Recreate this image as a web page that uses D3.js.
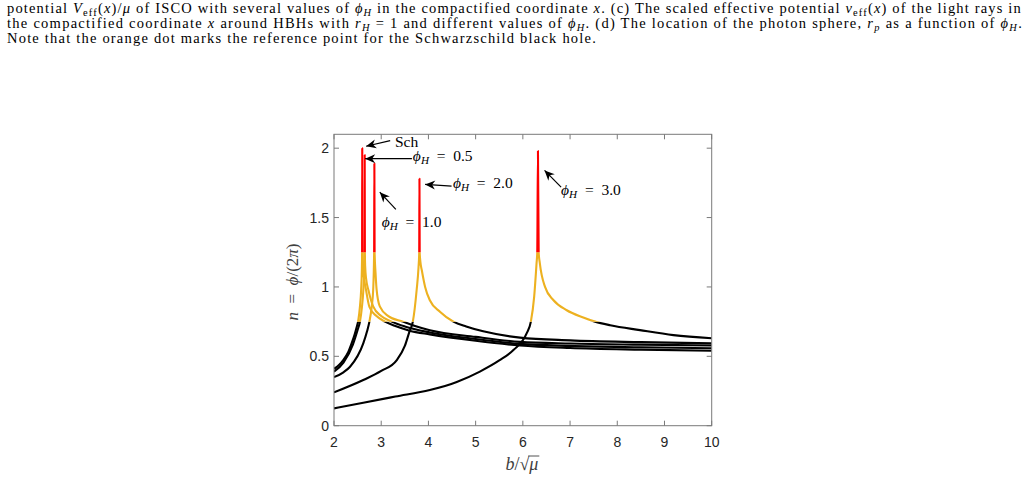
<!DOCTYPE html>
<html>
<head>
<meta charset="utf-8">
<script src="https://cdn.jsdelivr.net/npm/d3@7"></script>
<style>
body { margin: 0; background: #fff; }
svg { display: block; }
</style>
</head>
<body>
<svg width="1030" height="479"></svg>
<script>
// ---- data (b/sqrt(mu), n = phi/(2 pi)) ----
var xTicks = [2, 3, 4, 5, 6, 7, 8, 9, 10];
var yTicks = [0, 0.5, 1, 1.5, 2];
var yTickLabels = ["0", "0.5", "1", "1.5", "2"];

var bSch = [2.0, 2.1, 2.2, 2.3, 2.375, 2.44, 2.48, 2.51, 2.55, 2.575, 2.59, 2.595, 2.598, 2.601, 2.607, 2.625, 2.68, 2.75, 2.9, 3.08, 3.3, 3.6, 4.03, 5.0, 5.94, 7.0, 8.5, 10];
var nSch = [0.41, 0.435, 0.475, 0.53, 0.595, 0.66, 0.71, 0.75, 0.86, 0.98, 1.12, 1.25, 2.0, 1.5, 1.25, 1.1, 0.976, 0.856, 0.79, 0.75, 0.718, 0.685, 0.658, 0.612, 0.578, 0.56, 0.548, 0.54];

var bPhi05 = [2.0, 2.2, 2.4, 2.5, 2.55, 2.59, 2.62, 2.64, 2.646, 2.65, 2.654, 2.66, 2.68, 2.73, 2.83, 3.0, 3.22, 3.5, 4.03, 5.0, 5.94, 7.0, 8.5, 10];
var nPhi05 = [0.39, 0.455, 0.585, 0.69, 0.75, 0.85, 0.97, 1.12, 1.25, 1.95, 1.25, 1.15, 1.06, 0.976, 0.86, 0.79, 0.75, 0.715, 0.672, 0.625, 0.59, 0.575, 0.565, 0.558];

var bPhi10 = [2.0, 2.2, 2.34, 2.62, 2.7, 2.75, 2.8, 2.83, 2.85, 2.855, 2.86, 2.88, 2.9, 2.97, 3.15, 3.46, 3.7, 4.03, 5.0, 5.94, 7.0, 8.5, 10];
var nPhi10 = [0.35, 0.385, 0.425, 0.593, 0.68, 0.75, 0.86, 0.98, 1.25, 1.89, 1.25, 1.1, 0.99, 0.86, 0.79, 0.75, 0.72, 0.688, 0.64, 0.604, 0.592, 0.584, 0.578];

var bPhi20 = [2.0, 2.62, 3.0, 3.33, 3.5, 3.6, 3.67, 3.75, 3.79, 3.805, 3.81, 3.815, 3.83, 3.86, 3.93, 4.03, 4.25, 4.53, 4.8, 5.16, 5.94, 7.0, 8.5, 10];
var nPhi20 = [0.24, 0.329, 0.395, 0.473, 0.575, 0.68, 0.75, 0.976, 1.14, 1.25, 1.78, 1.25, 1.18, 1.12, 1.0, 0.904, 0.82, 0.75, 0.715, 0.68, 0.635, 0.615, 0.602, 0.593];

var bPhi30 = [2.0, 2.62, 3.3, 4.03, 4.6, 5.09, 5.5, 5.8, 6.08, 6.17, 6.24, 6.29, 6.305, 6.32, 6.335, 6.36, 6.47, 6.65, 6.93, 7.28, 7.53, 7.85, 8.48, 9.19, 10];
var nPhi30 = [0.125, 0.166, 0.21, 0.257, 0.315, 0.39, 0.47, 0.545, 0.665, 0.75, 0.93, 1.17, 1.25, 1.98, 1.25, 1.17, 1.0, 0.904, 0.832, 0.78, 0.75, 0.724, 0.689, 0.653, 0.63];

// n bands: direct (<0.75), lensed (0.75-1.25), photon ring (>1.25)
var bandEdges = [0, 0.75, 1.25, 2.1];
var bandColors = ["#000000", "#EDB120", "#FF0000"];

// annotations: label, text anchor (b, n), arrow tail (b, n), arrow tip (b, n)
var annLabels = ["Sch", "0.5", "2.0", "1.0", "3.0"];
var annText = [[3.29, 2.01], [3.67, 1.904], [4.52, 1.71], [3.01, 1.432], [6.81, 1.66]];
var annTail = [[3.19, 2.055], [3.65, 1.924], [4.49, 1.727], [3.31, 1.559], [6.81, 1.719]];
var annTip = [[2.68, 2.014], [2.66, 1.924], [3.93, 1.739], [2.97, 1.683], [6.46, 1.84]];

var series = [
  { b: bSch, n: nSch },
  { b: bPhi05, n: nPhi05 },
  { b: bPhi10, n: nPhi10 },
  { b: bPhi20, n: nPhi20 },
  { b: bPhi30, n: nPhi30 }
];

var svg = d3.select("svg");
var plotL = 334, plotR = 711.7, plotT = 134.3, plotB = 425.7;

var x = d3.scaleLinear().domain([2, 10]).range([plotL, plotR]);
var y = d3.scaleLinear().domain([0, 2.1]).range([plotB, plotT]);

var serif = "'Liberation Serif', 'Times New Roman', serif";
var sans = "'Liberation Sans', Arial, Helvetica, sans-serif";

// ---- rich text helper (italic / subscript pieces) ----
function richText(g, parts) {
  var shift = 0;
  parts.forEach(function(p) {
    var s = p[1] || "";
    var want = s.indexOf("sub") >= 0 ? 3 : 0;
    var ts = g.append("tspan").text(p[0]);
    if (want !== shift) { ts.attr("dy", want - shift); shift = want; }
    if (s.indexOf("i") === 0) ts.style("font-style", "italic");
    if (want) ts.style("font-size", "72%");
  });
}

function captionLine(yy, parts, x0, x1) {
  var t = svg.append("text")
      .attr("x", x0).attr("y", yy)
      .style("font-family", serif)
      .style("font-size", "14.5px")
      .attr("fill", "#000");
  richText(t, parts);
  var w = t.node().getComputedTextLength();
  var nChars = t.text().length;
  t.attr("letter-spacing", (x1 - x0 - w) / nChars);
}

captionLine(13, [["potential "], ["V", "i"], ["eff", "sub"], ["("], ["x", "i"], [")/"], ["μ", "i"],
  [" of ISCO with several values of "], ["ϕ", "i"], ["H", "isub"], [" in the compactified coordinate "],
  ["x", "i"], [". (c) The scaled effective potential "], ["v", "i"], ["eff", "sub"], ["("], ["x", "i"],
  [") of the light rays in"]], 7, 1022);
captionLine(28, [["the compactified coordinate "], ["x", "i"], [" around HBHs with "], ["r", "i"], ["H", "isub"],
  [" = 1 and different values of "], ["ϕ", "i"], ["H", "isub"], [". (d) The location of the photon sphere, "],
  ["r", "i"], ["p", "isub"], [" as a function of "], ["ϕ", "i"], ["H", "isub"], ["."]], 7, 1023);
captionLine(43, [["Note that the orange dot marks the reference point for the Schwarzschild black hole."]], 7, 597);

// ---- clip paths for the n bands ----
var defs = svg.append("defs");
bandEdges.slice(0, 3).forEach(function(lo, i) {
  var hi = bandEdges[i + 1];
  defs.append("clipPath").attr("id", "band" + i)
    .append("rect")
    .attr("x", plotL).attr("width", plotR - plotL)
    .attr("y", y(hi)).attr("height", y(lo) - y(hi));
});

defs.append("marker")
    .attr("id", "head")
    .attr("markerUnits", "userSpaceOnUse")
    .attr("viewBox", "-11 -5 12 10")
    .attr("markerWidth", 12).attr("markerHeight", 10)
    .attr("refX", 0).attr("refY", 0)
    .attr("orient", "auto")
  .append("path")
    .attr("d", "M0,0 L-10,-4.5 L-7,0 L-10,4.5 Z")
    .attr("fill", "#000");

// ---- curves ----
var line = d3.line()
    .x(function(d) { return x(d[0]); })
    .y(function(d) { return y(d[1]); })
    .curve(d3.curveMonotoneX);

var curves = svg.append("g").attr("class", "curves");
series.forEach(function(s) {
  var pts = s.b.map(function(b, i) { return [b, s.n[i]]; });
  bandColors.forEach(function(c, i) {
    curves.append("path")
      .attr("d", line(pts))
      .attr("clip-path", "url(#band" + i + ")")
      .attr("fill", "none")
      .attr("stroke", c)
      .attr("stroke-width", 2.1)
      .attr("stroke-linejoin", "round");
  });
});

// ---- axes (box with inward ticks) ----
var axisColor = "#262626";
var lineGray = "#7a7a7a";
var tickLen = 5;
var ax = svg.append("g").attr("class", "axes");

ax.append("rect")
  .attr("x", plotL).attr("y", plotT)
  .attr("width", plotR - plotL).attr("height", plotB - plotT)
  .attr("fill", "none").attr("stroke", lineGray).attr("stroke-width", 1);

xTicks.forEach(function(t) {
  ax.append("line").attr("x1", x(t)).attr("x2", x(t)).attr("y1", plotB).attr("y2", plotB - tickLen)
    .attr("stroke", lineGray);
  ax.append("line").attr("x1", x(t)).attr("x2", x(t)).attr("y1", plotT).attr("y2", plotT + tickLen)
    .attr("stroke", lineGray);
  ax.append("text").attr("x", x(t)).attr("y", plotB + 21)
    .attr("text-anchor", "middle")
    .style("font-family", sans).style("font-size", "14px")
    .attr("fill", axisColor).text(t);
});

yTicks.forEach(function(t, i) {
  ax.append("line").attr("x1", plotL).attr("x2", plotL + tickLen).attr("y1", y(t)).attr("y2", y(t))
    .attr("stroke", lineGray);
  ax.append("line").attr("x1", plotR).attr("x2", plotR - tickLen).attr("y1", y(t)).attr("y2", y(t))
    .attr("stroke", lineGray);
  ax.append("text").attr("x", plotL - 5).attr("y", y(t) + 5)
    .attr("text-anchor", "end")
    .style("font-family", sans).style("font-size", "14px")
    .attr("fill", axisColor).text(yTickLabels[i]);
});

// x label: b / sqrt(mu)
var xl = svg.append("text")
    .attr("x", (plotL + plotR) / 2 - 1).attr("y", 470)
    .attr("text-anchor", "middle")
    .style("font-family", serif).style("font-size", "18px")
    .attr("fill", "#404040");
richText(xl, [["b", "i"], ["/√"], ["μ", "i"]]);
(function() {
  var node = xl.node();
  var nc = xl.text().length;
  var sq = node.getExtentOfChar(nc - 2);
  var mu = node.getExtentOfChar(nc - 1);
  svg.append("line")
    .attr("x1", sq.x + sq.width - 1).attr("x2", mu.x + mu.width + 1)
    .attr("y1", sq.y + 2).attr("y2", sq.y + 2)
    .attr("stroke", "#404040").attr("stroke-width", 0.9);
})();

// y label: n = phi/(2 pi)
var yl = svg.append("text")
    .attr("transform", "translate(298," + ((plotT + plotB) / 2 + 2) + ") rotate(-90)")
    .attr("text-anchor", "middle")
    .style("font-family", serif).style("font-size", "17px")
    .attr("fill", "#404040");
richText(yl, [["n", "i"], ["\u2002=\u2002"], ["ϕ", "i"], ["/(2"], ["π", "i"], [")"]]);

// ---- annotations ----
var ann = svg.append("g").attr("class", "annotations");
annLabels.forEach(function(lab, i) {
  ann.append("line")
    .attr("x1", x(annTail[i][0])).attr("y1", y(annTail[i][1]))
    .attr("x2", x(annTip[i][0])).attr("y2", y(annTip[i][1]))
    .attr("stroke", "#000").attr("stroke-width", 1.2)
    .attr("marker-end", "url(#head)");
  var t = ann.append("text")
    .attr("x", x(annText[i][0])).attr("y", y(annText[i][1]))
    .style("font-family", serif).style("font-size", "15.5px")
    .attr("fill", "#000");
  if (lab === "Sch") richText(t, [["Sch"]]);
  else richText(t, [["ϕ", "i"], ["H", "isub"], ["\u2002=\u2002" + lab]]);
});
</script>
</body>
</html>
